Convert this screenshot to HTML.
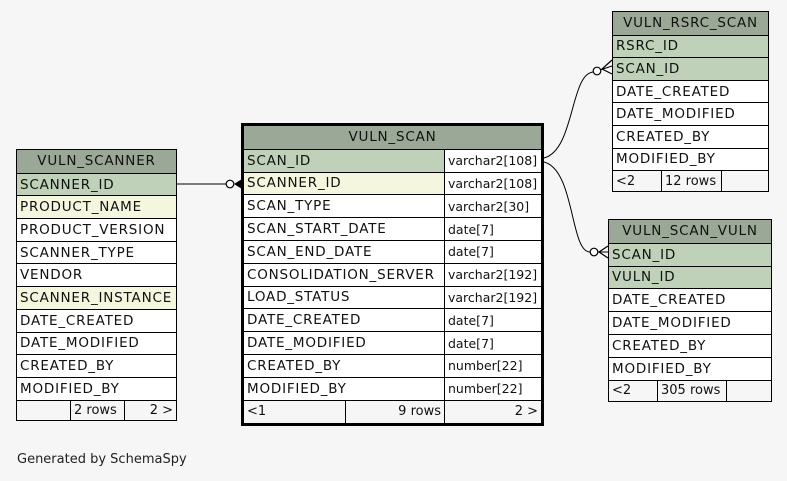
<!DOCTYPE html>
<html><head><meta charset="utf-8"><style>
body{margin:0;width:787px;height:481px;background:#f6f6f6;position:relative;overflow:hidden;font-family:"DejaVu Sans","Liberation Sans",sans-serif;font-size:13.5px;color:#111}
.t{position:absolute;border:1px solid #000;background:#fff;box-sizing:border-box;display:flex;flex-direction:column}
.r{box-sizing:border-box;border-top:1px solid #000;padding-left:3px;white-space:nowrap;overflow:hidden;display:flex;align-items:center;letter-spacing:0.8px;flex:none}
.r:first-child{border-top:none}
.h{background:#9ca897;justify-content:center;padding-left:0}
.pk{background:#bfd1b9}
.ix{background:#f4f7de}
.f{background:#f6f6f6;padding:0;flex:1;letter-spacing:0;font-size:13px}
.c{box-sizing:border-box;height:100%;display:flex;align-items:center;padding:0 3px;overflow:hidden}
.ty{font-size:12.5px;letter-spacing:0}
.bl{border-left:1px solid #000}
.rt{justify-content:flex-end}
svg{position:absolute;left:0;top:0}
</style></head><body>

<!-- VULN_SCANNER -->
<div class="t" style="left:16px;top:149px;width:161px;height:272px">
<div class="r h" style="height:22.7px">VULN_SCANNER</div>
<div class="r pk" style="height:22.7px">SCANNER_ID</div>
<div class="r ix" style="height:22.7px">PRODUCT_NAME</div>
<div class="r" style="height:22.7px">PRODUCT_VERSION</div>
<div class="r" style="height:22.7px">SCANNER_TYPE</div>
<div class="r" style="height:22.7px">VENDOR</div>
<div class="r ix" style="height:22.7px">SCANNER_INSTANCE</div>
<div class="r" style="height:22.7px">DATE_CREATED</div>
<div class="r" style="height:22.7px">DATE_MODIFIED</div>
<div class="r" style="height:22.7px">CREATED_BY</div>
<div class="r" style="height:22.7px">MODIFIED_BY</div>
<div class="r f"><div class="c" style="width:53px"></div><div class="c bl" style="width:54px">2 rows</div><div class="c bl rt" style="width:52px">2 &gt;</div></div>
</div>

<!-- VULN_SCAN -->
<div class="t" style="left:241px;top:123px;width:303px;height:303px;border:3px solid #000">
<div class="r h" style="height:22.8px">VULN_SCAN</div>
<div class="r pk" style="height:22.8px;padding:0"><div class="c" style="width:200px">SCAN_ID</div><div class="c bl ty" style="flex:1;background:#fff">varchar2[108]</div></div>
<div class="r ix" style="height:22.8px;padding:0"><div class="c" style="width:200px">SCANNER_ID</div><div class="c bl ty" style="flex:1;background:#fff">varchar2[108]</div></div>
<div class="r" style="height:22.8px;padding:0"><div class="c" style="width:200px">SCAN_TYPE</div><div class="c bl ty" style="flex:1">varchar2[30]</div></div>
<div class="r" style="height:22.8px;padding:0"><div class="c" style="width:200px">SCAN_START_DATE</div><div class="c bl ty" style="flex:1">date[7]</div></div>
<div class="r" style="height:22.8px;padding:0"><div class="c" style="width:200px">SCAN_END_DATE</div><div class="c bl ty" style="flex:1">date[7]</div></div>
<div class="r" style="height:22.8px;padding:0"><div class="c" style="width:200px">CONSOLIDATION_SERVER</div><div class="c bl ty" style="flex:1">varchar2[192]</div></div>
<div class="r" style="height:22.8px;padding:0"><div class="c" style="width:200px">LOAD_STATUS</div><div class="c bl ty" style="flex:1">varchar2[192]</div></div>
<div class="r" style="height:22.8px;padding:0"><div class="c" style="width:200px">DATE_CREATED</div><div class="c bl ty" style="flex:1">date[7]</div></div>
<div class="r" style="height:22.8px;padding:0"><div class="c" style="width:200px">DATE_MODIFIED</div><div class="c bl ty" style="flex:1">date[7]</div></div>
<div class="r" style="height:22.8px;padding:0"><div class="c" style="width:200px">CREATED_BY</div><div class="c bl ty" style="flex:1">number[22]</div></div>
<div class="r" style="height:22.8px;padding:0"><div class="c" style="width:200px">MODIFIED_BY</div><div class="c bl ty" style="flex:1">number[22]</div></div>
<div class="r f"><div class="c" style="width:101px">&lt;1</div><div class="c bl rt" style="width:99px">9 rows</div><div class="c bl rt" style="flex:1">2 &gt;</div></div>
</div>

<!-- VULN_RSRC_SCAN -->
<div class="t" style="left:612px;top:11px;width:157px;height:181px">
<div class="r h" style="height:22.6px">VULN_RSRC_SCAN</div>
<div class="r pk" style="height:22.6px">RSRC_ID</div>
<div class="r pk" style="height:22.6px">SCAN_ID</div>
<div class="r" style="height:22.6px">DATE_CREATED</div>
<div class="r" style="height:22.6px">DATE_MODIFIED</div>
<div class="r" style="height:22.6px">CREATED_BY</div>
<div class="r" style="height:22.6px">MODIFIED_BY</div>
<div class="r f"><div class="c" style="width:48px">&lt;2</div><div class="c bl" style="width:60px">12 rows</div><div class="c bl" style="flex:1"></div></div>
</div>

<!-- VULN_SCAN_VULN -->
<div class="t" style="left:608px;top:219px;width:164px;height:183px">
<div class="r h" style="height:22.8px">VULN_SCAN_VULN</div>
<div class="r pk" style="height:22.8px">SCAN_ID</div>
<div class="r pk" style="height:22.8px">VULN_ID</div>
<div class="r" style="height:22.8px">DATE_CREATED</div>
<div class="r" style="height:22.8px">DATE_MODIFIED</div>
<div class="r" style="height:22.8px">CREATED_BY</div>
<div class="r" style="height:22.8px">MODIFIED_BY</div>
<div class="r f"><div class="c" style="width:48px">&lt;2</div><div class="c bl" style="width:69px">305 rows</div><div class="c bl" style="flex:1"></div></div>
</div>

<svg width="787" height="481">
<g fill="none" stroke="#000" stroke-width="1">
<line x1="177" y1="184" x2="226" y2="184"/>
<path d="M544 158 C575 150,570 72,594 72"/>
<path d="M544 162 C575 170,570 252,590 252"/>
<line x1="600" y1="70" x2="612" y2="66"/>
<line x1="597" y1="252" x2="608" y2="252"/>
</g>
<g fill="#fff" stroke="#000" stroke-width="1.2">
<circle cx="230" cy="184" r="3.8"/>
<circle cx="597" cy="71" r="3.8"/>
<circle cx="594" cy="252" r="3.8"/>
</g>
<polygon points="234,184 242,179 242,189" fill="#000"/>
<g fill="none" stroke="#000" stroke-width="1.2">
<path d="M612 60 L602 69 L612 74"/>
<path d="M608 246 L599 252 L608 258"/>
</g>
</svg>

<div style="position:absolute;left:17px;top:452px;font-size:13px;color:#222">Generated by SchemaSpy</div>
</body></html>
